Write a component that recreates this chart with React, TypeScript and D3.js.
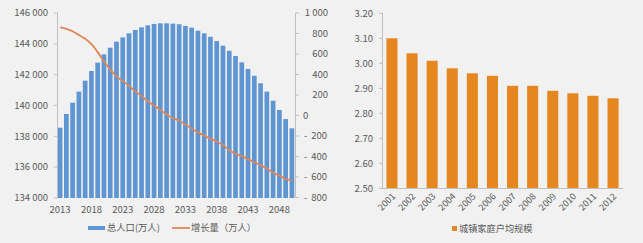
import React from "react";
import * as d3 from "d3";

const popYears: number[] = d3.range(2013, 2051);
const popValues: number[] = [
  138560, 139450, 140180, 140900, 141610, 142240, 142780, 143320, 143750, 144140,
  144420, 144680, 144900, 145070, 145200, 145290, 145330, 145330, 145310, 145270,
  145160, 145050, 144850, 144680, 144460, 144180, 143880, 143550, 143210, 142800,
  142370, 141930, 141440, 140900, 140310, 139710, 139120, 138520,
];
const growthValues: number[] = [
  860, 845, 822, 785, 748, 696, 618, 529, 448, 382,
  338, 289, 235, 191, 137, 98, 54, 10, -25, -49,
  -88, -127, -167, -196, -228, -255, -289, -338, -373, -397,
  -426, -456, -485, -515, -559, -588, -618, -632,
];
const popTickYears: number[] = [2013, 2018, 2023, 2028, 2033, 2038, 2043, 2048];
const leftTicks: number[] = [134000, 136000, 138000, 140000, 142000, 144000, 146000];
const rightTicks: number[] = [-800, -600, -400, -200, 0, 200, 400, 600, 800, 1000];

const hhYears: string[] = ["2001", "2002", "2003", "2004", "2005", "2006", "2007", "2008", "2009", "2010", "2011", "2012"];
const hhValues: number[] = [3.10, 3.04, 3.01, 2.98, 2.96, 2.95, 2.91, 2.91, 2.89, 2.88, 2.87, 2.86];
const hhTicks: number[] = [2.5, 2.6, 2.7, 2.8, 2.9, 3.0, 3.1, 3.2];

const FONT = "'Microsoft YaHei', 'Noto Sans CJK SC', 'Noto Sans', sans-serif";
const TXT = "#595959";
const AX = "#bfbfbf";

export default function App() {
  // Left chart
  const xL = d3.scaleBand<number>().domain(popYears).range([57, 295]).paddingInner(0.25).paddingOuter(0.12);
  const yL = d3.scaleLinear().domain([134000, 146000]).range([198, 13]);
  const yR = d3.scaleLinear().domain([-800, 1000]).range([197.5, 13]);
  const cx = (yr: number) => (xL(yr) ?? 0) + xL.bandwidth() / 2;
  const line = d3
    .line<number>()
    .x((_, i) => cx(popYears[i]))
    .y((d) => yR(d))
    .curve(d3.curveMonotoneX);

  // Right chart
  const xH = d3.scaleBand<string>().domain(hhYears).range([382, 623]).paddingInner(0.45).paddingOuter(0.22);
  const yH = d3.scaleLinear().domain([2.5, 3.2]).range([188.3, 13.3]);

  const fmtThousands = (v: number) => d3.format(",")(v).replace(/,/g, " ");

  return (
    <svg width={643} height={243} style={{ position: "absolute", left: 0, top: 0 }} fontFamily={FONT}>
      <rect x={0} y={0} width={643} height={243} fill="#f1f1f1" />

      {/* Left chart bars */}
      {popValues.map((v, i) => (
        <rect
          key={popYears[i]}
          x={xL(popYears[i])}
          y={yL(v)}
          width={xL.bandwidth()}
          height={198 - yL(v)}
          fill="#5f95d0"
        />
      ))}
      {/* left axis */}
      <line x1={57.5} x2={57.5} y1={13} y2={198} stroke={AX} />
      {leftTicks.map((t) => (
        <g key={t}>
          <line x1={54} x2={57.5} y1={yL(t)} y2={yL(t)} stroke={AX} />
          <text x={48} y={yL(t)} dy="0.35em" textAnchor="end" fontSize={9.5} fill={TXT}>
            {fmtThousands(t)}
          </text>
        </g>
      ))}
      {/* right axis */}
      <line x1={295.5} x2={295.5} y1={13} y2={198} stroke={AX} />
      {rightTicks.map((t) => (
        <g key={t}>
          <line x1={295.5} x2={299} y1={yR(t)} y2={yR(t)} stroke={AX} />
          {t < 0 ? (
            <>
              <text x={304} y={yR(t)} dy="0.35em" fontSize={9.5} fill={TXT}>-</text>
              <text x={327} y={yR(t)} dy="0.35em" textAnchor="end" fontSize={9.5} fill={TXT}>
                {fmtThousands(-t)}
              </text>
            </>
          ) : t === 0 ? (
            <text x={303} y={yR(t)} dy="0.35em" fontSize={9.5} fill={TXT}>0</text>
          ) : (
            <text x={328} y={yR(t)} dy="0.35em" textAnchor="end" fontSize={9.5} fill={TXT}>
              {fmtThousands(t)}
            </text>
          )}
        </g>
      ))}
      {/* growth line */}
      <path d={line(growthValues) ?? ""} fill="none" stroke="#e0875a" strokeWidth={1.8} />
      {/* x labels */}
      {popTickYears.map((yr) => (
        <text key={yr} x={cx(yr)} y={213} textAnchor="middle" fontSize={9.5} fill={TXT}>
          {yr}
        </text>
      ))}
      {/* legend left */}
      <rect x={88} y={226} width={17} height={4} fill="#5f95d0" />
      <text x={107} y={228} dy="0.35em" fontSize={9.3} fill={TXT}>总人口(万人)</text>
      <line x1={172} x2={190} y1={228} y2={228} stroke="#e0875a" strokeWidth={1.8} />
      <text x={191} y={228} dy="0.35em" fontSize={9.3} fill={TXT}>增长量（万人）</text>

      {/* Right chart */}
      {hhValues.map((v, i) => (
        <rect
          key={hhYears[i]}
          x={xH(hhYears[i])}
          y={yH(v)}
          width={xH.bandwidth()}
          height={188.3 - yH(v)}
          fill="#e5871e"
        />
      ))}
      <line x1={382.5} x2={382.5} y1={13} y2={188.5} stroke={AX} />
      <line x1={382} x2={623} y1={188.5} y2={188.5} stroke={AX} />
      {hhTicks.map((t) => (
        <g key={t}>
          <line x1={379} x2={382.5} y1={yH(t)} y2={yH(t)} stroke={AX} />
          <text x={373} y={yH(t)} dy="0.35em" textAnchor="end" fontSize={9.5} fill={TXT}>
            {t.toFixed(2)}
          </text>
        </g>
      ))}
      {hhYears.map((yr) => {
        const x = (xH(yr) ?? 0) + xH.bandwidth() / 2 + 4;
        const y = 197;
        return (
          <text key={yr} x={x} y={y} textAnchor="end" fontSize={9} fill={TXT} transform={`rotate(-45 ${x} ${y})`}>
            {yr}
          </text>
        );
      })}
      <rect x={452} y={226} width={5} height={5} fill="#e5871e" />
      <text x={459} y={228.5} dy="0.35em" fontSize={9.2} fill={TXT}>城镇家庭户均规模</text>
    </svg>
  );
}
